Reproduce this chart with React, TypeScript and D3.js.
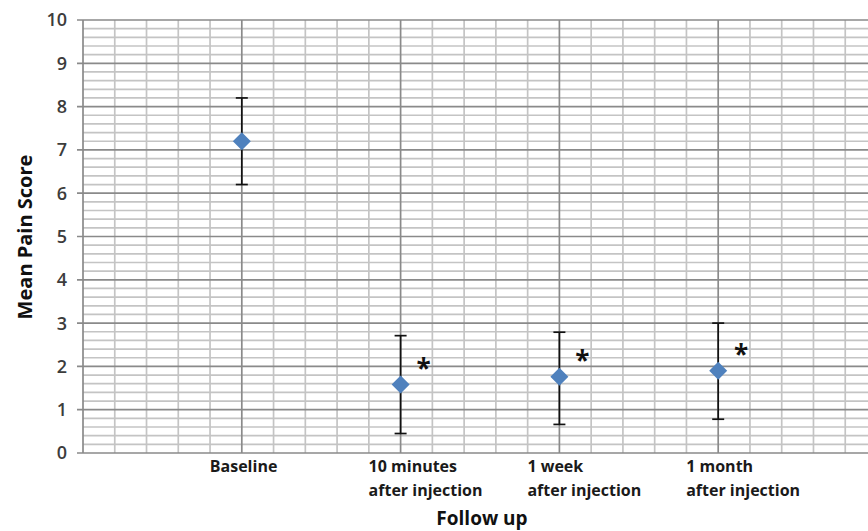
import React from 'react';
import * as d3 from 'd3';

// follow up categories, their slot on the x axis and two-line labels
const categories = ['Baseline', '10 minutes', '1 week', '1 month'];
const labelLines = [
  ['Baseline'],
  ['10 minutes', 'after injection'],
  ['1 week', 'after injection'],
  ['1 month', 'after injection'],
];
const slots = [1, 2, 3, 4];

// mean pain score with error bar ends
const means = [7.2, 1.58, 1.76, 1.9];
const lows = [6.2, 0.45, 0.66, 0.78];
const highs = [8.2, 2.71, 2.79, 3.0];
const significant = [false, true, true, true];

const yTicks = [0, 1, 2, 3, 4, 5, 6, 7, 8, 9, 10];

const W = 868;
const H = 531;
const font = '"Open Sans", "Liberation Sans", sans-serif';

const App = () => {
  const x = d3.scaleLinear().domain([0, 5]).range([83, 877]);
  const y = d3.scaleLinear().domain([0, 10]).range([453, 20]);

  const minorY = d3.range(0, 10.001, 0.2).filter((v) => Math.abs(v - Math.round(v)) > 0.01);
  const minorX = d3.range(0, 5.001, 0.2).filter((v) => Math.abs(v - Math.round(v)) > 0.01);

  return (
    <div>
      <style>{`body{margin:0}`}</style>
      <svg width={W} height={H} style={{ display: 'block', background: '#fff' }}>
        {/* minor grid */}
        <g stroke="#c4c4c4" strokeWidth={1.7}>
          {minorY.map((v, i) => (
            <line key={'my' + i} x1={x(0)} x2={W} y1={y(v)} y2={y(v)} />
          ))}
          {minorX.map((v, i) => (
            <line key={'mx' + i} x1={x(v)} x2={x(v)} y1={y(10)} y2={y(0)} />
          ))}
        </g>
        {/* major grid */}
        <g stroke="#8a8a8a" strokeWidth={1.7}>
          {yTicks.map((v) => (
            <line key={'y' + v} x1={x(0) - 6} x2={W} y1={y(v)} y2={y(v)} />
          ))}
          {slots.map((s) => (
            <line key={'x' + s} x1={x(s)} x2={x(s)} y1={y(10)} y2={y(0)} />
          ))}
          <line x1={x(0)} x2={x(0)} y1={y(10)} y2={y(0)} />
        </g>

        {/* y tick labels */}
        {yTicks.map((v) => (
          <text
            key={'yl' + v}
            x={67}
            y={y(v)}
            dy="0.36em"
            textAnchor="end"
            fontFamily={font}
            fontSize={18}
            fontWeight={600}
            fill="#3c3c3c"
          >
            {v}
          </text>
        ))}

        {/* x labels, left aligned a bit before each slot */}
        {labelLines.map((lines, i) => (
          <text
            key={categories[i]}
            x={x(slots[i]) - 32}
            y={472}
            fontFamily={font}
            fontSize={16}
            fontWeight="bold"
            fill="#1a1a1a"
          >
            {lines.map((l, j) => (
              <tspan key={j} x={x(slots[i]) - 32} dy={j === 0 ? 0 : 23.5}>
                {l}
              </tspan>
            ))}
          </text>
        ))}

        {/* error bars */}
        <g stroke="#111" strokeWidth={1.7}>
          {slots.map((s, i) => (
            <g key={'e' + i}>
              <line x1={x(s)} x2={x(s)} y1={y(lows[i])} y2={y(highs[i])} />
              <line x1={x(s) - 6} x2={x(s) + 6} y1={y(lows[i])} y2={y(lows[i])} />
              <line x1={x(s) - 6} x2={x(s) + 6} y1={y(highs[i])} y2={y(highs[i])} />
            </g>
          ))}
        </g>

        {/* mean markers */}
        {slots.map((s, i) => (
          <path
            key={'m' + i}
            transform={`translate(${x(s)},${y(means[i])})`}
            d="M0,-9L9,0L0,9L-9,0Z"
            fill="#4f81bd"
          />
        ))}

        {/* significance marks */}
        {slots.map((s, i) =>
          significant[i] ? (
            <text
              key={'s' + i}
              x={x(s) + 23}
              y={y(means[i] + 0.59)}
              dy="0.72em"
              textAnchor="middle"
              fontFamily={font}
              fontSize={26}
              fontWeight="bold"
              fill="#111"
            >
              *
            </text>
          ) : null
        )}

        {/* axis titles */}
        <text
          transform={`translate(25,237) rotate(-90)`}
          textAnchor="middle"
          dy="0.35em"
          fontFamily={font}
          fontSize={20}
          fontWeight="bold"
          fill="#111"
        >
          Mean Pain Score
        </text>
        <text
          x={482}
          y={525}
          textAnchor="middle"
          fontFamily={font}
          fontSize={19}
          fontWeight="bold"
          fill="#111"
        >
          Follow up
        </text>
      </svg>
    </div>
  );
};

export default App;
